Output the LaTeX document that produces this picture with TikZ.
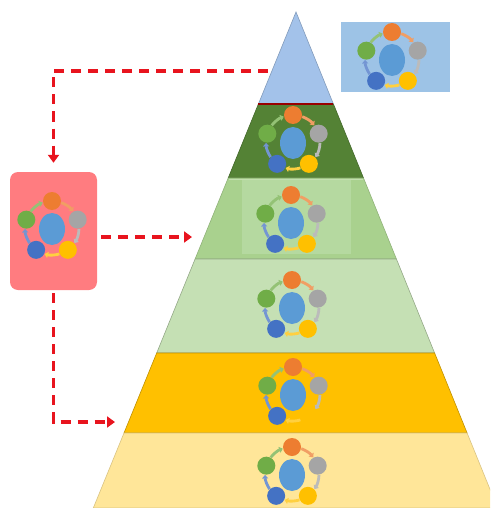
\documentclass[tikz,border=0pt]{standalone}
\usetikzlibrary{arrows.meta}

\definecolor{bandA}{HTML}{A3C2EA}
\definecolor{bandB}{HTML}{548235}
\definecolor{bandC}{HTML}{A9D18E}
\definecolor{bandCin}{HTML}{B5D9A0}
\definecolor{bandD}{HTML}{C5E0B4}
\definecolor{bandE}{HTML}{FFC000}
\definecolor{bandF}{HTML}{FFE699}
\definecolor{boxred}{HTML}{FF7C80}
\definecolor{boxblue}{HTML}{9DC3E6}
\definecolor{dashred}{HTML}{E8141E}
\definecolor{cOrange}{HTML}{ED7D31}
\definecolor{cGray}{HTML}{A5A5A5}
\definecolor{cYellow}{HTML}{FFC000}
\definecolor{cBlue}{HTML}{4472C4}
\definecolor{cGreen}{HTML}{70AD47}
\definecolor{cMid}{HTML}{5B9BD5}

\tikzset{
  band/.style={line width=0.6pt},
  dasharrow/.style={draw=dashred, line width=3.5pt, dash pattern=on 10pt off 7pt,
    -{Triangle[length=8pt,width=11pt]}},
  cyc/.pic={
    \foreach \a/\c in {270/cOrange,342/cGray,54/cYellow,126/cBlue,198/cGreen}{
      \draw[\c!75!white, line width=2.8pt, -{Triangle[length=3.5pt,width=6pt]}]
        ({\a+20}:27) arc[start angle=\a+20, end angle=\a+52, radius=27];
      \fill[\c] (\a:27) circle[radius=9];
    }
    \fill[cMid] (0,1) ellipse[x radius=13, y radius=16];
  }
}

\begin{document}
\begin{tikzpicture}[x=1pt,y=-1pt]
  \useasboundingbox (0,0) rectangle (490,508);
  \clip (0,0) rectangle (490,508);

  % pyramid, top to bottom
  \filldraw[band, fill=bandA, draw=bandA!80!black] (296,12) -- (333.4,104) -- (258.4,104) -- cycle;
  \filldraw[band, fill=bandB, draw=bandB!80!black] (258.4,104) -- (333.4,104) -- (363.5,178) -- (228.2,178) -- cycle;
  \draw[line width=1.2pt, draw=red!60!black] (258.4,104) -- (333.4,104);
  \filldraw[band, fill=bandC, draw=bandC!85!black] (228.2,178) -- (363.5,178) -- (396.4,259) -- (195.1,259) -- cycle;
  \fill[bandCin] (242,179) rectangle (351,254);
  \draw[line width=1pt, draw=bandC!70!white] (229,179) -- (363,179);
  \filldraw[band, fill=bandD, draw=bandD!75!black] (195.1,259) -- (396.4,259) -- (434.6,353) -- (156.7,353) -- cycle;
  \filldraw[band, fill=bandE, draw=bandE!75!black] (156.7,353) -- (434.6,353) -- (467.1,433) -- (124.0,433) -- cycle;
  \filldraw[band, fill=bandF, draw=bandF!85!black] (124.0,433) -- (467.1,433) -- (497.6,508) -- (93.3,508) -- cycle;

  \node (bluebox) at (395.5,57) [fill=boxblue, minimum width=109pt, minimum height=70pt, inner sep=0pt] {};
  \node (redbox) at (53.5,231) [fill=boxred, rounded corners=8pt, minimum width=87pt, minimum height=118pt, inner sep=0pt] {};

  \pic at (392,59) {cyc};
  \pic at (293,142) {cyc};
  \pic at (291,222) {cyc};
  \pic at (292,307) {cyc};
  \pic at (293,394) {cyc};
  \pic at (292,474) {cyc};
  \pic at (52,228) {cyc};

  \coordinate (topstart) at (268,71);
  \coordinate (band3in) at (192,237);
  \coordinate (band6in) at (115,422);

  \draw[dasharrow, shorten >=9pt] (topstart) -| (redbox.north);
  \draw[dasharrow] (redbox.east |- band3in) ++(4,0) -- (band3in);
  \draw[dasharrow, shorten <=3pt] (redbox.south) |- (band6in);
\end{tikzpicture}
\end{document}
